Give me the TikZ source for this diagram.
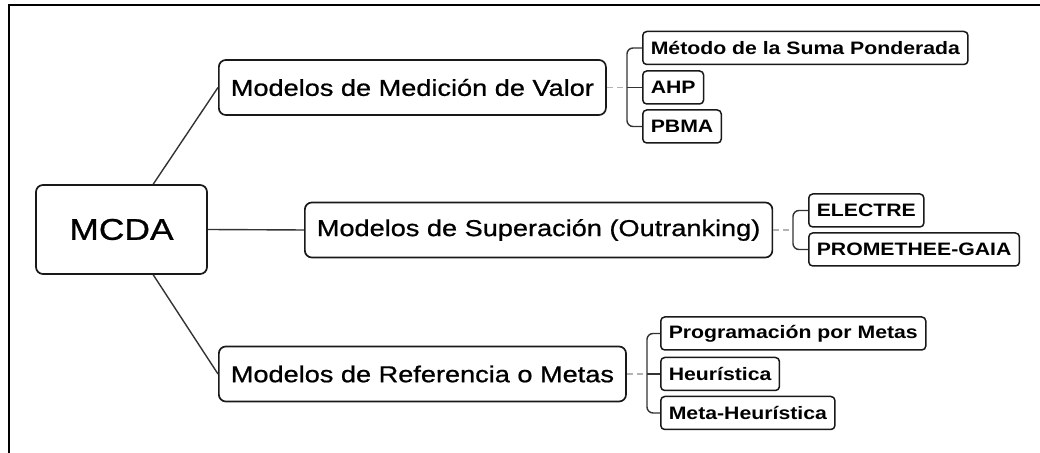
\documentclass[tikz,border=0pt]{standalone}
\usepackage{fontspec}
\setmainfont[FakeStretch=1.18]{Liberation Sans}
\newfontfamily\heavyfont[FakeStretch=1.18, FakeBold=0.8]{Liberation Sans}
\begin{document}
\begin{tikzpicture}[x=0.5pt,y=-0.5pt,
  main/.style={draw=black!90, line width=0.85pt, rounded corners=3.5pt, fill=white, font=\heavyfont\fontsize{11.5}{13}\selectfont, minimum height=27.5pt, inner xsep=6pt},
  leaf/.style={draw=black!90, line width=0.75pt, rounded corners=2pt, fill=white, font=\bfseries\fontsize{9}{11}\selectfont, minimum height=16.5pt, inner xsep=4pt, anchor=west},
  link/.style={black!80, line width=0.7pt},
  stub/.style={black!30, line width=0.8pt, densely dashed}]
\useasboundingbox (0,0) rectangle (1040,453);
\draw[line width=1.4pt] (1040,5) -- (9,5) -- (9,453);
\node[main, minimum width=85.5pt, minimum height=44.5pt, font=\heavyfont\fontsize{15}{18}\selectfont] (mcda) at (121.5,229.5) {MCDA};
\node[main, anchor=west] (mv) at (218,87.5) {Modelos de Medición de Valor};
\node[main, anchor=west] (ms) at (304,230) {Modelos de Superación (Outranking)};
\node[main, anchor=west] (mr) at (218,374) {Modelos de Referencia o Metas};
\draw[link] (mcda.55) -- (mv.west);
\draw[link] (mcda.east) -- (ms.west);
\draw[link] (mcda.-55) -- (mr.west);
\node[leaf] (v1) at (642,48) {Método de la Suma Ponderada};
\node[leaf] (v2) at (642,87.5) {AHP};
\node[leaf] (v3) at (642,126.5) {PBMA};
\coordinate (bv) at (627,87.5);
\draw[stub] (mv.east) -- (bv);
\draw[link, rounded corners=3pt] (v1.west) -| (bv) |- (v3.west);
\draw[link] (bv) -- (v2.west);
\node[leaf] (s1) at (808,210.5) {ELECTRE};
\node[leaf] (s2) at (808,249.5) {PROMETHEE-GAIA};
\coordinate (bs) at (793,230);
\draw[stub] (ms.east) -- (bs);
\draw[link, rounded corners=3pt] (s1.west) -| (bs) |- (s2.west);
\node[leaf] (r1) at (660,333.5) {Programación por Metas};
\node[leaf] (r2) at (660,374) {Heurística};
\node[leaf] (r3) at (660,413) {Meta-Heurística};
\coordinate (br) at (647,374);
\draw[stub] (mr.east) -- (br);
\draw[link, rounded corners=3pt] (r1.west) -| (br) |- (r3.west);
\draw[link] (br) -- (r2.west);
\end{tikzpicture}
\end{document}
